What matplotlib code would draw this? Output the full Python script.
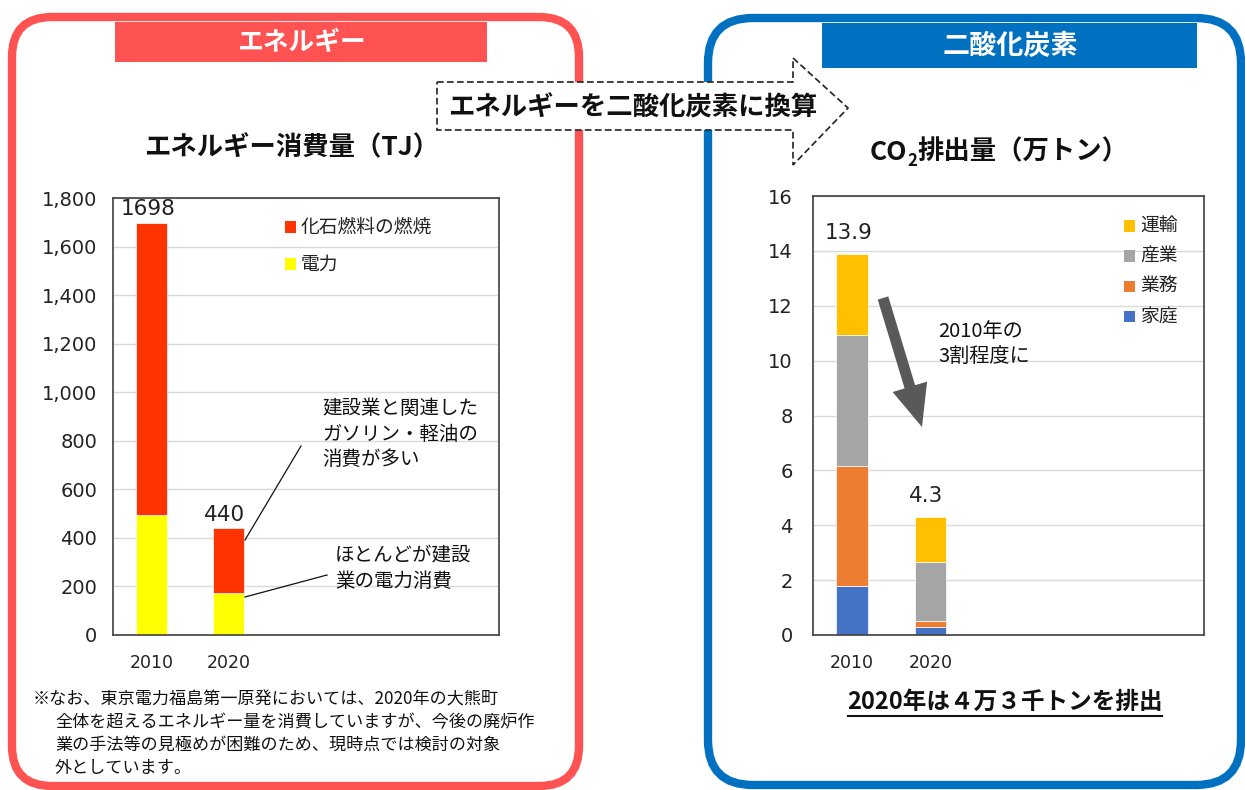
import matplotlib
matplotlib.use("Agg")
import matplotlib.pyplot as plt
import matplotlib.patches as mpatches
from matplotlib.ticker import StrMethodFormatter

plt.rcParams["font.family"] = ["Noto Sans CJK JP", "DejaVu Sans"]

# ---- data ----
years = ["2010", "2020"]
energy_series = ["電力", "化石燃料の燃焼"]
energy_elec = [495, 172]
energy_fossil = [1203, 268]
energy_total = [1698, 440]
energy_colors = ["#FFFF00", "#FF3300"]

co2_series = ["家庭", "業務", "産業", "運輸"]
co2_home = [1.8, 0.3]
co2_business = [4.35, 0.2]
co2_industry = [4.8, 2.15]
co2_transport = [2.95, 1.65]
co2_total = [13.9, 4.3]
co2_colors = ["#4472C4", "#ED7D31", "#A5A5A5", "#FFC000"]

RED = "#FF5252"
BLUE = "#0070C0"
W, H = 1245, 790
NUM = "DejaVu Sans"

fig = plt.figure(figsize=(W / 100, H / 100), dpi=100)


def px_axes(x0, y0, x1, y1):
    return fig.add_axes([x0 / W, 1 - y1 / H, (x1 - x0) / W, (y1 - y0) / H])


def style_chart(ax, ymax, step, fmt, ypad):
    ax.set_xlim(-0.5, 4.5)
    ax.set_ylim(0, ymax)
    ax.set_yticks(range(0, ymax + 1, step))
    ax.yaxis.set_major_formatter(StrMethodFormatter(fmt))
    ax.set_xticks(range(len(years)))
    ax.set_xticklabels(years)
    ax.tick_params(axis="y", length=0, labelsize=14, pad=ypad)
    ax.tick_params(axis="x", length=0, labelsize=12.5, pad=14)
    for lab in ax.get_xticklabels() + ax.get_yticklabels():
        lab.set_family(NUM)
        lab.set_color("#222222")
    ax.grid(axis="y", color="#D9D9D9", lw=1)
    ax.set_axisbelow(True)
    for sp in ax.spines.values():
        sp.set_color("#404040")
        sp.set_linewidth(1.2)


def legend_box(ax, names, colors, x, y, dy):
    for i, (nm, c) in enumerate(zip(names, colors)):
        yy = y - i * dy
        ax.add_patch(mpatches.Rectangle((x, yy - 0.013), 0.028, 0.026, transform=ax.transAxes,
                                        facecolor=c, edgecolor="none", clip_on=False))
        ax.text(x + 0.042, yy, nm, transform=ax.transAxes, fontsize=13.5, va="center",
                ha="left", color="#222222")


# ---- left chart: energy ----
ax1 = px_axes(113, 198, 499, 635)
ax1.bar(range(len(years)), energy_elec, width=0.4, color=energy_colors[0], edgecolor="white", lw=0.5)
ax1.bar(range(len(years)), energy_fossil, width=0.4, bottom=energy_elec, color=energy_colors[1],
        edgecolor="white", lw=0.5)
for i, v in enumerate(energy_total):
    ax1.text(i - 0.05, v + 15, f"{v}", ha="center", va="bottom", fontsize=15.5, family=NUM, color="#222222")
style_chart(ax1, 1800, 200, "{x:,.0f}", 11.5)
legend_box(ax1, energy_series[::-1], energy_colors[::-1], 0.445, 0.934, 0.085)

# ---- right chart: CO2 ----
ax2 = px_axes(813, 196, 1204, 635)
bottom = [0, 0]
for vals, c in zip([co2_home, co2_business, co2_industry, co2_transport], co2_colors):
    ax2.bar(range(len(years)), vals, width=0.4, bottom=bottom, color=c, edgecolor="white", lw=0.5)
    bottom = [b + v for b, v in zip(bottom, vals)]
for i, v in enumerate(co2_total):
    ax2.text(i - 0.05, v + 0.4, f"{v}", ha="center", va="bottom", fontsize=15.5, family=NUM, color="#222222")
style_chart(ax2, 16, 2, "{x:.0f}", 14.5)
legend_box(ax2, co2_series[::-1], co2_colors[::-1], 0.795, 0.932, 0.069)

# ---- overlay: panels, headers, arrows, notes ----
ov = fig.add_axes([0, 0, 1, 1], zorder=10)
ov.set_xlim(0, W)
ov.set_ylim(H, 0)
ov.axis("off")
ov.patch.set_alpha(0)

ov.add_patch(mpatches.FancyBboxPatch((12, 17), 567, 769, boxstyle="round,pad=0,rounding_size=40",
                                     facecolor="none", edgecolor=RED, lw=6))
ov.add_patch(mpatches.FancyBboxPatch((708, 18), 533, 767, boxstyle="round,pad=0,rounding_size=45",
                                     facecolor="none", edgecolor=BLUE, lw=6))
ov.add_patch(mpatches.Rectangle((115, 22), 372, 40, facecolor=RED, edgecolor="none"))
ov.add_patch(mpatches.Rectangle((822, 23), 375, 45, facecolor=BLUE, edgecolor="none"))
ov.text(301, 42, "エネルギー", ha="center", va="center", fontsize=18.5, fontweight="bold", color="white")
ov.text(1010, 46, "二酸化炭素", ha="center", va="center", fontsize=19.5, fontweight="bold", color="white")

# dashed conversion arrow
arrow_pts = [(437, 82), (793, 82), (793, 58), (848, 108), (793, 165), (793, 130), (437, 130)]
ov.add_patch(mpatches.Polygon(arrow_pts, closed=True, facecolor="white", edgecolor="#222222",
                              lw=1.2, ls=(0, (4, 2))))
ov.text(633, 108, "エネルギーを二酸化炭素に換算", ha="center", va="center", fontsize=19,
        fontweight="bold", color="#111111")

# chart titles
ov.text(292, 148, "エネルギー消費量（TJ）", ha="center", va="center", fontsize=19, fontweight="bold",
        color="#111111")

renderer = fig.canvas.get_renderer()
t_co = ov.text(870, 152, "CO", ha="left", va="center", fontsize=19, fontweight="bold", color="#111111")
x_co = ov.transData.inverted().transform(t_co.get_window_extent(renderer))[1][0]
t_sub = ov.text(x_co, 161, "2", ha="left", va="center", fontsize=12, fontweight="bold", color="#111111")
x_sub = ov.transData.inverted().transform(t_sub.get_window_extent(renderer))[1][0]
ov.text(x_sub, 152, "排出量（万トン）", ha="left", va="center", fontsize=19, fontweight="bold",
        color="#111111")

# left callouts
ov.plot([245, 301], [540, 446], color="#111111", lw=0.9)
ov.text(322, 434, "建設業と関連した\nガソリン・軽油の\n消費が多い", ha="left", va="center",
        fontsize=14, color="#111111", linespacing=1.28)
ov.plot([245, 327], [597, 575], color="#111111", lw=0.9)
ov.text(335, 569, "ほとんどが建設\n業の電力消費", ha="left", va="center",
        fontsize=14, color="#111111", linespacing=1.28)

# right decrease arrow
ov.add_patch(mpatches.FancyArrow(883, 298, 39, 129, width=11, head_width=36, head_length=42,
                                 length_includes_head=True, facecolor="#595959", edgecolor="none"))
ov.text(938, 344, "2010年の\n3割程度に", ha="left", va="center", fontsize=14.5, color="#111111",
        linespacing=1.2)

# footnote
note = ["※なお、東京電力福島第一原発においては、2020年の大熊町",
        "全体を超えるエネルギー量を消費していますが、今後の廃炉作",
        "業の手法等の見極めが困難のため、現時点では検討の対象",
        "外としています。"]
for i, line in enumerate(note):
    ov.text(33 if i == 0 else 55, 700 + i * 22.5, line, ha="left", va="center", fontsize=12.3,
            color="#111111")

# bottom statement
ov.text(1005, 702, "2020年は４万３千トンを排出", ha="center", va="center", fontsize=17,
        fontweight="bold", color="#111111")
ov.plot([848, 1162], [716, 716], color="#111111", lw=1.5)

fig.savefig("out.png", dpi=100)
